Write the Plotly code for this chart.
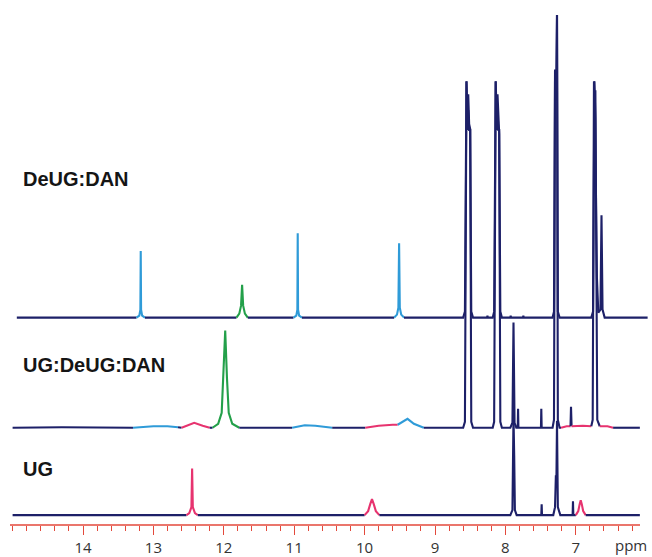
import plotly.graph_objects as go

# ---------------- data (ppm, intensity) ----------------
# DeUG:DAN spectrum (top)
deug_dan = [
    (14.94, 0), (13.24, 0), (13.20, 2), (13.185, 8), (13.18, 67), (13.175, 8), (13.16, 2), (13.12, 0),
    (11.82, 0), (11.78, 4), (11.755, 12), (11.74, 33), (11.725, 12), (11.70, 4), (11.66, 0),
    (11.01, 0), (10.97, 2), (10.955, 8), (10.95, 85), (10.945, 8), (10.93, 2), (10.89, 0),
    (9.58, 0), (9.54, 3), (9.52, 10), (9.51, 75), (9.50, 10), (9.48, 3), (9.44, 0),
    (8.60, 0), (8.575, 6), (8.553, 238), (8.54, 205), (8.528, 225), (8.515, 195), (8.50, 190), (8.485, 6), (8.46, 0),
    (8.26, 0), (8.255, 2), (8.25, 0),
    (8.18, 0), (8.16, 6), (8.138, 238), (8.125, 205), (8.112, 225), (8.10, 195), (8.088, 185), (8.072, 6), (8.05, 0),
    (7.93, 0), (7.925, 2), (7.92, 0), (7.75, 0), (7.745, 2), (7.74, 0),
    (7.33, 0), (7.31, 6), (7.295, 250), (7.285, 235), (7.275, 245), (7.267, 305), (7.255, 6), (7.23, 0),
    (6.78, 0), (6.755, 6), (6.735, 238), (6.722, 200), (6.712, 113), (6.70, 40), (6.68, 5), (6.65, 8),
    (6.635, 103), (6.62, 8), (6.59, 0), (5.98, 0),
]
deug_dan_colours = [(13.24, 13.12, "blue"), (11.82, 11.66, "green"),
                    (11.01, 10.89, "blue"), (9.58, 9.44, "blue")]

# UG:DeUG:DAN spectrum (middle)
ug_deug_dan = [
    (15.0, 0), (14.3, 0.5), (13.29, 0), (13.0, 1.5), (12.8, 1.5), (12.65, 0.5),
    (12.60, 0), (12.50, 2.5), (12.42, 5), (12.30, 2), (12.20, 0),
    (12.16, 0), (12.08, 4), (12.03, 15), (12.005, 50), (11.98, 98), (11.955, 50), (11.93, 15), (11.88, 4), (11.78, 0),
    (11.03, 0), (10.85, 2.5), (10.70, 2), (10.46, 0),
    (9.99, 0), (9.80, 2), (9.60, 3), (9.53, 3), (9.45, 6), (9.39, 9), (9.30, 4), (9.16, 0),
    (8.60, 0), (8.575, 6), (8.553, 349), (8.54, 300), (8.528, 320), (8.515, 300), (8.50, 300), (8.485, 6), (8.46, 0),
    (8.18, 0), (8.16, 6), (8.138, 349), (8.125, 300), (8.112, 320), (8.10, 300), (8.088, 300), (8.072, 6), (8.05, 0),
    (7.93, 0), (7.90, 5), (7.885, 106), (7.87, 5), (7.845, 0), (7.825, 0), (7.82, 19), (7.815, 0),
    (7.495, 0), (7.49, 19), (7.485, 0),
    (7.33, 0), (7.31, 8), (7.295, 350), (7.285, 330), (7.275, 340), (7.267, 416), (7.255, 8), (7.23, 0), (7.21, 0),
    (7.13, 1.5), (7.075, 1.5), (7.068, 21), (7.06, 1.5), (6.90, 2), (6.78, 1.5),
    (6.76, 8), (6.742, 349), (6.732, 320), (6.722, 340), (6.71, 150), (6.695, 8), (6.66, 1.5), (6.55, 1.5), (6.47, 0), (6.09, 0),
]
ug_deug_dan_colours = [(13.29, 12.65, "blue"), (12.60, 12.20, "pink"), (12.16, 11.78, "green"),
                       (11.03, 10.46, "blue"), (9.99, 9.53, "pink"), (9.53, 9.16, "blue"),
                       (7.21, 7.075, "pink"), (7.06, 6.78, "pink"), (6.66, 6.47, "pink")]

# UG spectrum (bottom)
ug = [
    (15.0, 0), (12.53, 0), (12.49, 2), (12.46, 8), (12.45, 47), (12.44, 8), (12.41, 2), (12.37, 0),
    (10.0, 0), (9.95, 4), (9.92, 11), (9.895, 16), (9.87, 11), (9.84, 4), (9.79, 0),
    (7.93, 0), (7.90, 5), (7.885, 100), (7.875, 60), (7.865, 5), (7.84, 0),
    (7.49, 0), (7.485, 11), (7.48, 0),
    (7.32, 0), (7.295, 8), (7.283, 40), (7.275, 38), (7.267, 95), (7.255, 8), (7.22, 0),
    (7.045, 0), (7.04, 14), (7.035, 0),
    (7.0, 0), (6.965, 4), (6.945, 11), (6.93, 15), (6.915, 11), (6.895, 4), (6.86, 0), (6.09, 0),
]
ug_colours = [(12.53, 12.37, "pink"), (10.0, 9.79, "pink"), (7.0, 6.86, "pink")]

labels = ["DeUG:DAN", "UG:DeUG:DAN", "UG"]
major_ticks = [14, 13, 12, 11, 10, 9, 8, 7]

# ---------------- styling / layout ----------------
COL = {"navy": "#1d2068", "blue": "#2f9bd8", "green": "#23a04a", "pink": "#e7336f"}
RED = "#e3493b"
W, H = 652, 557
PLOT_L, PLOT_R, PLOT_B = 8, 648, 529        # pixel edges of plotting area
PX_PER_PPM = 70.4
X14 = 83                                      # pixel of 14 ppm


def ppm_at(px):
    return 14 - (px - X14) / PX_PER_PPM


offsets = {"DeUG:DAN": 209, "UG:DeUG:DAN": 98, "UG": 10}
spectra = {"DeUG:DAN": (deug_dan, deug_dan_colours),
           "UG:DeUG:DAN": (ug_deug_dan, ug_deug_dan_colours),
           "UG": (ug, ug_colours)}

fig = go.Figure()


def seg_colour(p1, p2, ranges):
    for hi, lo, c in ranges:
        if lo - 1e-9 <= p1 <= hi + 1e-9 and lo - 1e-9 <= p2 <= hi + 1e-9:
            return c
    return "navy"


for name in labels:
    pts, ranges = spectra[name]
    off = offsets[name]
    runs = []
    for i in range(len(pts) - 1):
        c = seg_colour(pts[i][0], pts[i + 1][0], ranges)
        if runs and runs[-1][0] == c:
            runs[-1][1].append(pts[i + 1])
        else:
            runs.append([c, [pts[i], pts[i + 1]]])
    for c, run in runs:
        fig.add_trace(go.Scatter(
            x=[p for p, _ in run], y=[v + off for _, v in run], mode="lines",
            line=dict(color=COL[c], width=2.1), hoverinfo="skip", showlegend=False))

# axis line
fig.add_shape(type="line", xref="x", yref="paper", x0=ppm_at(10), x1=ppm_at(640), y0=0, y1=0,
              line=dict(color=RED, width=1.6))

label_pos = {"DeUG:DAN": 180, "UG:DeUG:DAN": 368, "UG": 473}
for name in labels:
    fig.add_annotation(text="<b>%s</b>" % name, xref="paper", yref="paper",
                       x=(21 - PLOT_L) / (PLOT_R - PLOT_L), y=1 - label_pos[name] / PLOT_B,
                       xanchor="left", yanchor="middle", showarrow=False,
                       font=dict(family="Liberation Sans, Arial", size=20, color="#151515"))

fig.add_annotation(text="ppm", xref="paper", yref="paper",
                   x=(631 - PLOT_L) / (PLOT_R - PLOT_L), y=-(549 - PLOT_B) / PLOT_B,
                   xanchor="center", yanchor="middle", showarrow=False,
                   font=dict(family="Open Sans", size=15, color="#333333"))

minor_vals = [round(6.2 + 0.2 * k, 1) for k in range(45)]
fig.update_layout(
    width=W, height=H, paper_bgcolor="white", plot_bgcolor="white",
    margin=dict(l=PLOT_L, r=W - PLOT_R, t=0, b=H - PLOT_B),
    xaxis=dict(range=[ppm_at(PLOT_L), ppm_at(PLOT_R)], showgrid=False, zeroline=False,
               showline=False, tickmode="array", tickvals=major_ticks,
               ticktext=[str(t) for t in major_ticks], ticks="outside", ticklen=9,
               tickwidth=1.3, tickcolor=RED,
               tickfont=dict(family="Open Sans", size=15, color="#333333"),
               minor=dict(tickmode="array", tickvals=minor_vals, ticks="outside",
                          ticklen=5, tickwidth=1.3, tickcolor=RED, showgrid=False)),
    yaxis=dict(range=[0, PLOT_B], visible=False, showgrid=False, zeroline=False, fixedrange=True),
)

fig.write_html("out.html", config={"displayModeBar": False},
               post_script="document.body.style.margin='0';")
